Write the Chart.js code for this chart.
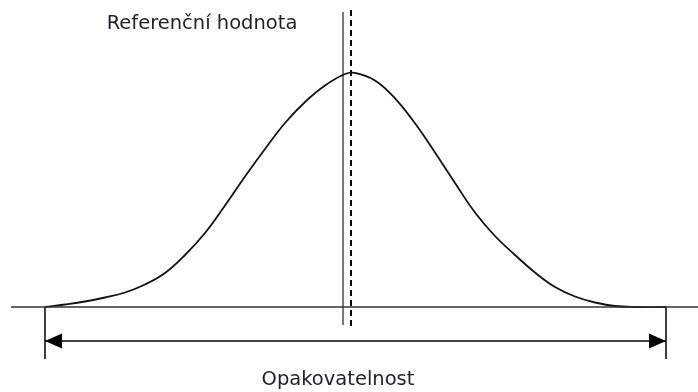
<!DOCTYPE html>
<html lang="cs">
<head>
<meta charset="utf-8">
<title>Opakovatelnost</title>
<script src="https://cdn.jsdelivr.net/npm/chart.js@4/dist/chart.umd.min.js"></script>
<style>
  html, body { margin: 0; padding: 0; background: #fff; }
  #wrap { width: 698px; height: 392px; position: relative; }
</style>
</head>
<body>
<div id="wrap"><canvas id="distChart"></canvas></div>
<script>
// Distribution of repeated results, x in units around the mean
const curveX = [-3.06, -2.86, -2.66, -2.46, -2.26, -2.06, -1.86, -1.66, -1.46, -1.26, -1.06, -0.86,
                -0.66, -0.46, -0.26, -0.06, 0.04, 0.24, 0.44, 0.64, 0.84, 1.04, 1.24, 1.44,
                1.64, 1.84, 2.04, 2.24, 2.44, 2.64, 2.84, 3.15];
const curveY = [0, 0.025, 0.055, 0.095, 0.145, 0.225, 0.34, 0.52, 0.74, 1.015, 1.305, 1.58,
                1.84, 2.05, 2.215, 2.33, 2.341, 2.265, 2.087, 1.837, 1.545, 1.24, 0.945, 0.71,
                0.52, 0.345, 0.20, 0.105, 0.045, 0.01, 0, 0];

const baselineX = [-3.40, 3.47];
const referenceValue = -0.08;   // solid line
const meanValue = 0;            // dashed line
const markerTop = 2.95;
const markerBottom = -0.18;
const repeatLimits = [-3.06, 3.15];  // ends of the repeatability span
const limitTickBottom = -0.52;
const arrowLevel = -0.34;

const labelTexts = ['Referenční hodnota', 'Opakovatelnost'];
const labelX = [-1.49, -0.13];
const labelY = [2.83, -0.73];

const toPoints = (xs, ys) => xs.map((x, i) => ({ x, y: ys[i] }));

// Draws filled arrow heads on both ends of datasets flagged with arrowHeads
const arrowHeadPlugin = {
  id: 'arrowHeads',
  afterDatasetsDraw(chart) {
    const ctx = chart.ctx;
    chart.data.datasets.forEach((ds, i) => {
      if (!ds.arrowHeads) return;
      const pts = chart.getDatasetMeta(i).data;
      const a = pts[0], b = pts[pts.length - 1];
      [[a, b], [b, a]].forEach(([tip, from]) => {
        const ang = Math.atan2(tip.y - from.y, tip.x - from.x);
        const len = 17, half = 7.5;
        ctx.save();
        ctx.translate(tip.x, tip.y);
        ctx.rotate(ang);
        ctx.beginPath();
        ctx.moveTo(0, 0);
        ctx.lineTo(-len, -half);
        ctx.lineTo(-len, half);
        ctx.closePath();
        ctx.fillStyle = ds.borderColor;
        ctx.fill();
        ctx.restore();
      });
    });
  }
};

// Text labels placed in data coordinates
const textLabelPlugin = {
  id: 'textLabels',
  afterDraw(chart) {
    const { ctx, scales: { x, y } } = chart;
    ctx.save();
    ctx.font = '19.5px "DejaVu Sans", Verdana, sans-serif';
    ctx.fillStyle = '#1e1e2e';
    ctx.textAlign = 'center';
    ctx.textBaseline = 'middle';
    labelTexts.forEach((t, i) => {
      ctx.fillText(t, x.getPixelForValue(labelX[i]), y.getPixelForValue(labelY[i]));
    });
    ctx.restore();
  }
};

const lineDs = (data, extra) => Object.assign({
  data,
  borderColor: '#000',
  borderWidth: 1.5,
  pointRadius: 0,
  fill: false,
  tension: 0
}, extra);

new Chart(document.getElementById('distChart'), {
  type: 'scatter',
  data: {
    datasets: [
      lineDs([{ x: baselineX[0], y: 0 }, { x: baselineX[1], y: 0 }], { borderColor: '#333', showLine: true }),
      lineDs(toPoints(curveX, curveY), { showLine: true, tension: 0.4, borderColor: '#111', borderWidth: 1.8 }),
      lineDs([{ x: referenceValue, y: markerTop }, { x: referenceValue, y: markerBottom }],
             { showLine: true, borderColor: '#7a7a7a', borderWidth: 2 }),
      lineDs([{ x: meanValue, y: markerTop + 0.02 }, { x: meanValue, y: markerBottom - 0.01 }],
             { showLine: true, borderWidth: 2, borderDash: [6, 4] }),
      lineDs([{ x: repeatLimits[0], y: 0 }, { x: repeatLimits[0], y: limitTickBottom }], { showLine: true }),
      lineDs([{ x: repeatLimits[1], y: 0 }, { x: repeatLimits[1], y: limitTickBottom }], { showLine: true }),
      lineDs([{ x: repeatLimits[0], y: arrowLevel }, { x: repeatLimits[1], y: arrowLevel }],
             { showLine: true, arrowHeads: true })
    ]
  },
  options: {
    responsive: true,
    maintainAspectRatio: false,
    animation: false,
    layout: { padding: 0 },
    plugins: {
      legend: { display: false },
      tooltip: { enabled: false }
    },
    scales: {
      x: { type: 'linear', min: -3.51, max: 3.47, display: false },
      y: { type: 'linear', min: -0.85, max: 3.07, display: false }
    }
  },
  plugins: [arrowHeadPlugin, textLabelPlugin]
});
</script>
</body>
</html>
